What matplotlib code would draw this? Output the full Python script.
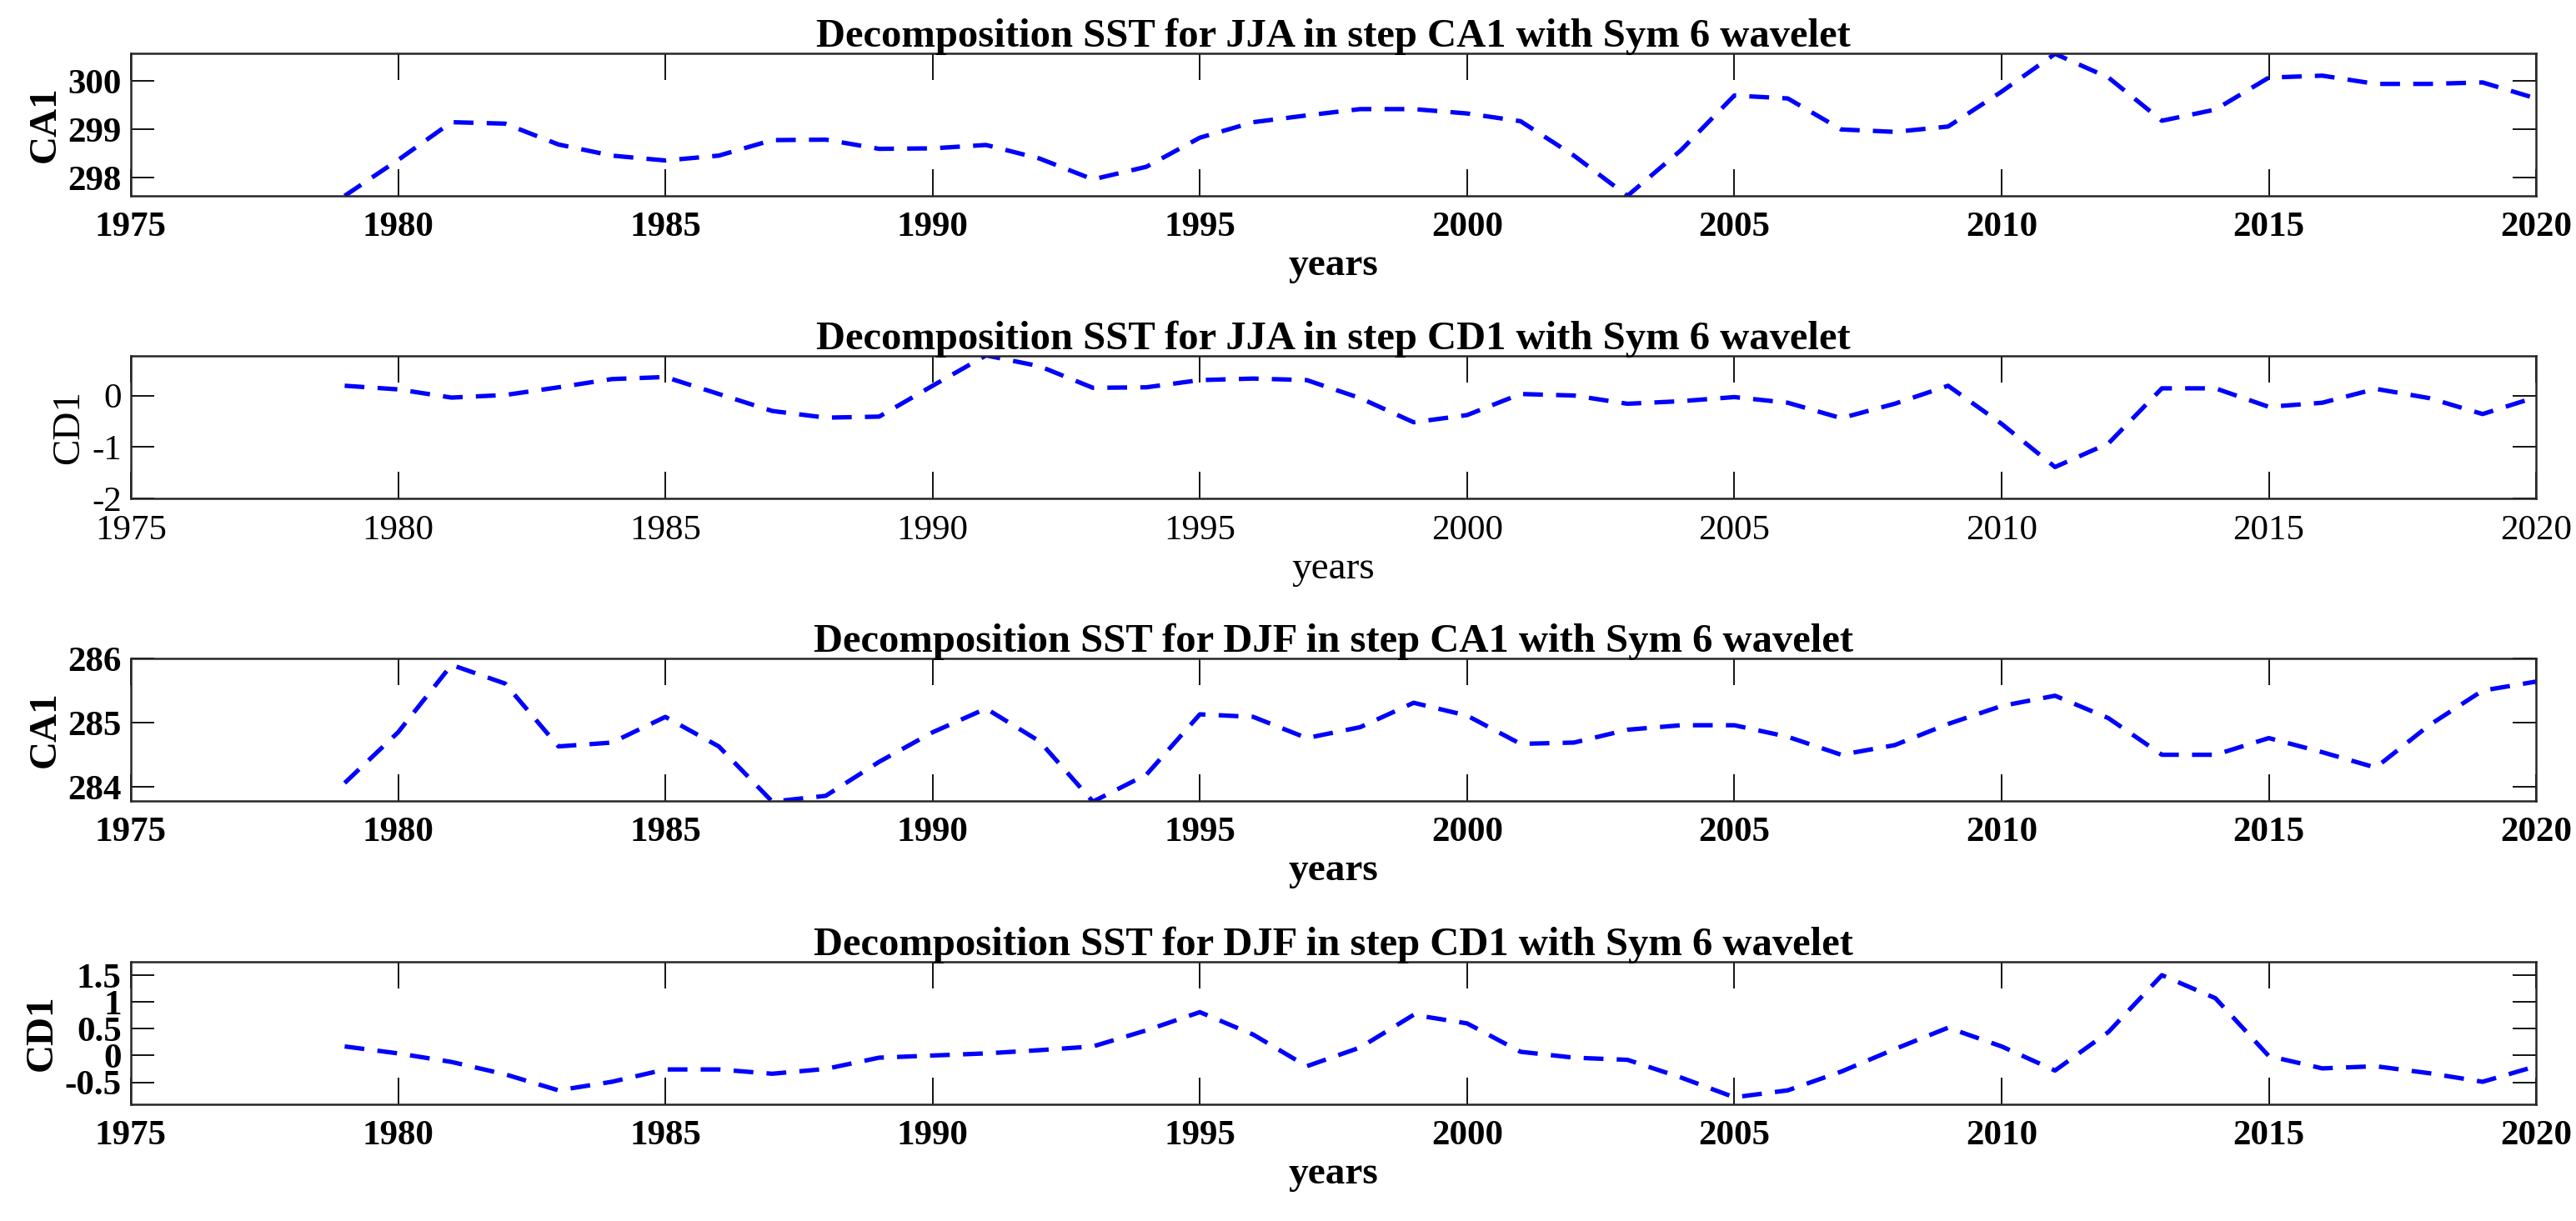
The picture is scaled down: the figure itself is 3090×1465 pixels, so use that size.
import matplotlib
matplotlib.use("Agg")
import matplotlib.pyplot as plt

plt.rcParams['font.family'] = ['Liberation Serif', 'DejaVu Serif']

years = list(range(1979, 2021))

jja_ca1 = [297.63, 298.37, 299.15, 299.12, 298.69, 298.46, 298.36, 298.46, 298.78, 298.79,
           298.60, 298.61, 298.68, 298.40, 297.97, 298.23, 298.83, 299.15, 299.29, 299.42,
           299.42, 299.33, 299.17, 298.46, 297.63, 298.57, 299.70, 299.64, 299.00, 298.95,
           299.06, 299.78, 300.56, 300.07, 299.18, 299.41, 300.07, 300.11, 299.94, 299.94,
           299.97, 299.64]
jja_cd1 = [0.19, 0.12, -0.04, 0.01, 0.16, 0.32, 0.36, 0.03, -0.30, -0.43,
           -0.41, 0.19, 0.78, 0.57, 0.15, 0.16, 0.30, 0.33, 0.30, -0.05,
           -0.52, -0.38, 0.03, 0.00, -0.16, -0.11, -0.03, -0.14, -0.44, -0.16,
           0.19, -0.55, -1.39, -0.93, 0.14, 0.14, -0.22, -0.14, 0.13, -0.05,
           -0.36, -0.03]
djf_ca1 = [284.06, 284.85, 285.90, 285.61, 284.63, 284.69, 285.09, 284.63, 283.77, 283.86,
           284.39, 284.85, 285.22, 284.71, 283.77, 284.19, 285.13, 285.09, 284.76, 284.93,
           285.31, 285.11, 284.67, 284.69, 284.89, 284.96, 284.96, 284.78, 284.50, 284.65,
           284.98, 285.26, 285.42, 285.07, 284.50, 284.50, 284.76, 284.54, 284.30, 284.96,
           285.50, 285.64]
djf_cd1 = [0.17, 0.04, -0.12, -0.35, -0.65, -0.49, -0.26, -0.26, -0.34, -0.25,
           -0.04, 0.00, 0.04, 0.10, 0.17, 0.47, 0.81, 0.39, -0.20, 0.15,
           0.76, 0.60, 0.07, -0.04, -0.08, -0.41, -0.78, -0.65, -0.30, 0.12,
           0.52, 0.17, -0.28, 0.44, 1.50, 1.07, -0.01, -0.24, -0.20, -0.33,
           -0.49, -0.20]

titles = ["Decomposition SST for JJA in step CA1 with Sym 6 wavelet",
          "Decomposition SST for JJA in step CD1 with Sym 6 wavelet",
          "Decomposition SST for DJF in step CA1 with Sym 6 wavelet",
          "Decomposition SST for DJF in step CD1 with Sym 6 wavelet"]
ylabels = ["CA1", "CD1", "CA1", "CD1"]
series = [jja_ca1, jja_cd1, djf_ca1, djf_cd1]
ylims = [(297.63, 300.57), (-2, 0.77), (283.78, 285.99), (-0.91, 1.75)]
yticks = [[298, 299, 300], [-2, -1, 0], [284, 285, 286], [-0.5, 0, 0.5, 1, 1.5]]
yticklabels = [["298", "299", "300"], ["-2", "-1", "0"], ["284", "285", "286"],
               ["-0.5", "0", "0.5", "1", "1.5"]]
bold = [True, False, True, True]
xticks = [1975, 1980, 1985, 1990, 1995, 2000, 2005, 2010, 2015, 2020]

fig = plt.figure(figsize=(30.9, 14.65), dpi=100)
bottoms = [0.8396, 0.5918, 0.3440, 0.0956]
for i in range(4):
    ax = fig.add_axes([0.0508, bottoms[i], 0.9337, 0.1167])
    ax.plot(years, series[i], color='#0000ff', linestyle=(0, (4.5, 3)), linewidth=3.8)
    ax.set_xlim(1975, 2020)
    ax.set_ylim(*ylims[i])
    w = 'bold' if bold[i] else 'normal'
    ax.set_xticks(xticks)
    ax.set_xticklabels([str(x) for x in xticks], fontsize=31, fontweight=w)
    ax.set_yticks(yticks[i])
    ax.set_yticklabels(yticklabels[i], fontsize=31, fontweight=w)
    ax.tick_params(axis='x', direction='in', length=23, width=1.3, top=True, pad=14)
    ax.tick_params(axis='y', direction='in', length=20, width=1.3, right=True, pad=8)
    ax.set_title(titles[i], fontsize=35, fontweight='bold', pad=6)
    ax.set_xlabel("years", fontsize=34, fontweight=w, labelpad=4)
    ax.set_ylabel(ylabels[i], fontsize=34, fontweight=w, labelpad=4)
    for s in ax.spines.values():
        s.set_linewidth(1.8)
        s.set_color('#262626')

fig.savefig("out.png", dpi=100, facecolor='white')
